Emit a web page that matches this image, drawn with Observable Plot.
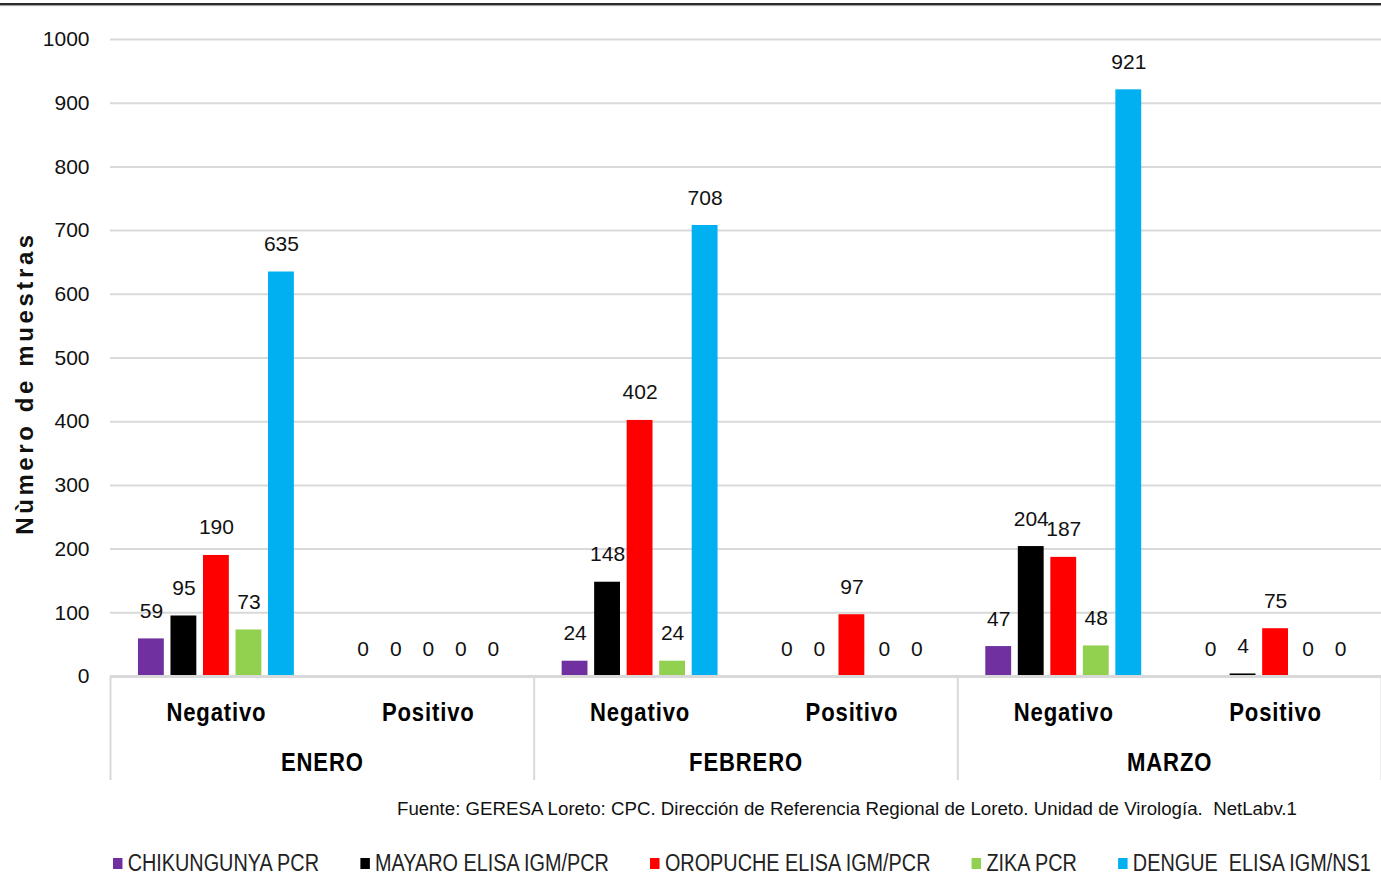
<!DOCTYPE html>
<html><head><meta charset="utf-8">
<script src="https://cdn.jsdelivr.net/npm/d3@7"></script>
<script src="https://cdn.jsdelivr.net/npm/@observablehq/plot@0.6"></script>
<style>
html,body{margin:0;padding:0;background:#fff;}
#wrap{position:relative;width:1381px;height:875px;overflow:hidden;font-family:"Liberation Sans",Arial,sans-serif;color:#111;}
#chart{position:absolute;left:0;top:0;}
#topline{position:absolute;left:0;top:3px;width:1381px;height:2px;background:#2b2b2b;box-shadow:0 1px 1px #999;z-index:2;}
#ytitle{position:absolute;left:25px;top:383px;transform:translate(-50%,-50%) rotate(-90deg);font-weight:bold;font-size:24px;letter-spacing:3.6px;white-space:nowrap;}
#source{position:absolute;left:397px;top:798px;font-size:18.7px;white-space:nowrap;}
#legend{position:absolute;left:113px;top:850px;display:flex;font-size:23px;white-space:pre;color:#222;transform:scaleX(0.862);transform-origin:0 50%;}
#legend .item{display:flex;align-items:center;margin-right:48px;}
#legend .sw{width:11px;height:11px;margin-right:6px;}
g[aria-label="x-axis tick label"] text{letter-spacing:1px;}
</style>
</head><body>
<div id="wrap">
  <div id="chart"></div>
  <div id="topline"></div>
  <div id="ytitle">Nùmero de muestras</div>
  <div id="source">Fuente: GERESA Loreto: CPC. Dirección de Referencia Regional de Loreto. Unidad de Virología.&nbsp;&nbsp;NetLabv.1</div>
  <div id="legend"></div>
</div>
<script>
const months = ["ENERO", "FEBRERO", "MARZO"];
const results = ["Negativo", "Positivo"];
const series = ["CHIKUNGUNYA PCR", "MAYARO ELISA IGM/PCR", "OROPUCHE ELISA IGM/PCR", "ZIKA PCR", "DENGUE  ELISA IGM/NS1"];
const colors = ["#7030A0", "#000000", "#FF0000", "#92D050", "#00B0F0"];
// values per group: ENERO-Neg, ENERO-Pos, FEBRERO-Neg, FEBRERO-Pos, MARZO-Neg, MARZO-Pos
const chikungunya = [59, 0, 24, 0, 47, 0];
const mayaro = [95, 0, 148, 0, 204, 4];
const oropuche = [190, 0, 402, 97, 187, 75];
const zika = [73, 0, 24, 0, 48, 0];
const dengue = [635, 0, 708, 0, 921, 0];
const yTicks = [0, 100, 200, 300, 400, 500, 600, 700, 800, 900, 1000];

const seriesValues = [chikungunya, mayaro, oropuche, zika, dengue];
const rows = [];
months.forEach((m, mi) => results.forEach((r, ri) => {
  const g = mi * results.length + ri;
  series.forEach((s, si) => rows.push({g, si, series: s, month: m, result: r, value: seriesValues[si][g]}));
}));

// bar layout inside each group (group units on a linear x scale)
const step = 0.1535, half = 0.061;
const center = d => d.g + 0.5 + (d.si - 2) * step;

const nGroups = months.length * results.length;
const groupCenters = d3.range(nGroups).map(i => i + 0.5);
const monthCenters = months.map((m, i) => i * results.length + results.length / 2);
const monthEdges = d3.range(months.length + 1).map(i => i * results.length);

const chart = Plot.plot({
  width: 1381,
  height: 790,
  marginLeft: 110,
  marginRight: 0,
  marginTop: 39,
  marginBottom: 114,
  x: {type: "linear", domain: [0, nGroups]},
  y: {domain: [0, 1000]},
  color: {domain: series, range: colors},
  style: {fontFamily: "Liberation Sans, Arial, sans-serif", background: "white", overflow: "visible"},
  marks: [
    Plot.ruleY(yTicks, {stroke: "#d9d9d9", strokeWidth: 2}),
    Plot.rect(rows, {x1: d => center(d) - half, x2: d => center(d) + half, y1: 0, y2: "value", fill: "series"}),
    Plot.ruleY([0], {stroke: "#d9d9d9", strokeWidth: 3}),
    Plot.text(rows, {x: center, y: "value", text: d => String(d.value), dy: -21, lineAnchor: "bottom", fontSize: 21, fill: "#111"}),
    Plot.axisY(yTicks, {tickSize: 0, tickPadding: 21, fontSize: 21, label: null, fill: "#111", tickFormat: d => String(d)}),
    Plot.axisX(monthEdges, {tickSize: 104, tickFormat: () => "", stroke: "#d9d9d9", strokeWidth: 2, label: null}),
    Plot.axisX(groupCenters, {tickSize: 0, tickPadding: 26, tickFormat: d => results[Math.floor(d) % results.length], fontSize: 26, fontWeight: "bold", label: null, fill: "#000"}),
    Plot.axisX(monthCenters, {tickSize: 0, tickPadding: 76, tickFormat: d => months[Math.floor(d / results.length)], fontSize: 26, fontWeight: "bold", label: null, fill: "#000"})
  ]
});
// condense the category labels horizontally (narrow bold look)
chart.querySelectorAll('g[aria-label="x-axis tick label"] text').forEach(t => {
  const tr = t.getAttribute("transform") || "";
  t.setAttribute("transform", tr + " scale(0.85,1)");
});
document.getElementById("chart").appendChild(chart);

const legend = document.getElementById("legend");
series.forEach((s, i) => {
  const item = document.createElement("div");
  item.className = "item";
  const sw = document.createElement("span");
  sw.className = "sw";
  sw.style.background = colors[i];
  const t = document.createElement("span");
  t.textContent = s;
  item.appendChild(sw); item.appendChild(t);
  legend.appendChild(item);
});
</script>
</body></html>
